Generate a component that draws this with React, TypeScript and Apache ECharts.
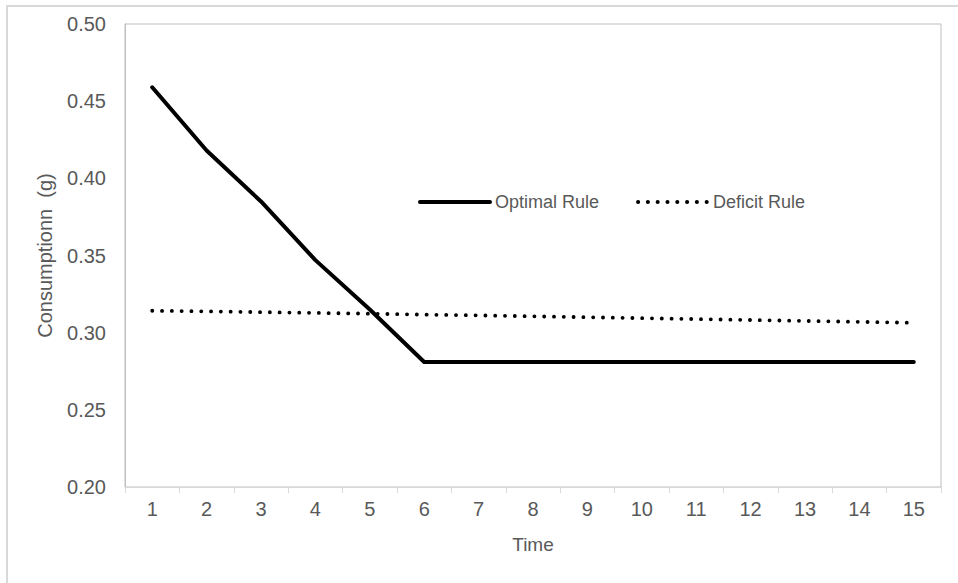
import React, { useEffect, useRef } from "react";
import * as echarts from "echarts";

const timeCategories = ["1", "2", "3", "4", "5", "6", "7", "8", "9", "10", "11", "12", "13", "14", "15"];
const optimalRule = [0.459, 0.418, 0.385, 0.347, 0.315, 0.281, 0.281, 0.281, 0.281, 0.281, 0.281, 0.281, 0.281, 0.281, 0.281];
const deficitRule = [0.3142, 0.3138, 0.3133, 0.3128, 0.3123, 0.3117, 0.3112, 0.3106, 0.3100, 0.3094, 0.3088, 0.3082, 0.3076, 0.3070, 0.3064];
const yTicks = { min: 0.2, max: 0.5, interval: 0.05 };

const FONT = "'Liberation Sans', Arial, sans-serif";
const TEXT = "#595959";

export default function App() {
  const ref = useRef<HTMLDivElement>(null);
  useEffect(() => {
    if (!ref.current) return;
    const chart = echarts.init(ref.current, null, { renderer: "svg" });
    chart.setOption({
      animation: false,
      backgroundColor: "#ffffff",
      textStyle: { fontFamily: FONT },
      graphic: [
        {
          type: "rect",
          shape: { x: 7, y: 6, width: 1000, height: 1000 },
          style: { fill: "none", stroke: "#d9d9d9", lineWidth: 2 },
          silent: true,
        },
      ],
      grid: {
        left: 125,
        top: 24,
        right: 17,
        bottom: 96,
        show: true,
        borderColor: "#bfbfbf",
        borderWidth: 1,
        backgroundColor: "transparent",
      },
      legend: {
        left: 413,
        top: 188,
        padding: 5,
        itemWidth: 70,
        itemHeight: 14,
        itemGap: 37,
        textStyle: { fontFamily: FONT, fontSize: 18, color: TEXT },
        lineStyle: { width: 4 },
        itemStyle: { opacity: 0, borderWidth: 0 },
        data: ["Optimal Rule", "Deficit Rule"],
      },
      xAxis: {
        type: "category",
        data: timeCategories,
        boundaryGap: true,
        name: "Time",
        nameLocation: "middle",
        nameGap: 48,
        nameTextStyle: { fontFamily: FONT, fontSize: 19, color: TEXT },
        axisLine: { show: true, lineStyle: { color: "#d9d9d9", width: 1 } },
        axisTick: { show: true, length: 6, lineStyle: { color: "#d9d9d9" } },
        axisLabel: { fontFamily: FONT, fontSize: 20, color: TEXT, margin: 12 },
        splitLine: { show: false },
      },
      yAxis: {
        type: "value",
        min: yTicks.min,
        max: yTicks.max,
        interval: yTicks.interval,
        name: "Consumptionn  (g)",
        nameLocation: "middle",
        nameGap: 70,
        nameTextStyle: { fontFamily: FONT, fontSize: 20, color: TEXT },
        axisLine: { show: true, lineStyle: { color: "#bfbfbf", width: 1 } },
        axisTick: { show: false },
        axisLabel: {
          fontFamily: FONT,
          fontSize: 20,
          color: TEXT,
          margin: 19,
          formatter: (v: number) => v.toFixed(2),
        },
        splitLine: { show: false },
      },
      series: [
        {
          name: "Optimal Rule",
          type: "line",
          data: optimalRule,
          symbol: "none",
          lineStyle: { color: "#000000", width: 4, cap: "round", join: "round" },
          itemStyle: { color: "#000000" },
        },
        {
          name: "Deficit Rule",
          type: "line",
          data: deficitRule,
          symbol: "none",
          lineStyle: { color: "#000000", width: 3.8, type: [0.1, 9.7], cap: "round" },
          itemStyle: { color: "#000000" },
        },
      ],
    });
    return () => chart.dispose();
  }, []);
  return (
    <div
      ref={ref}
      style={{ position: "fixed", left: 0, top: 0, width: 958, height: 583 }}
    />
  );
}
